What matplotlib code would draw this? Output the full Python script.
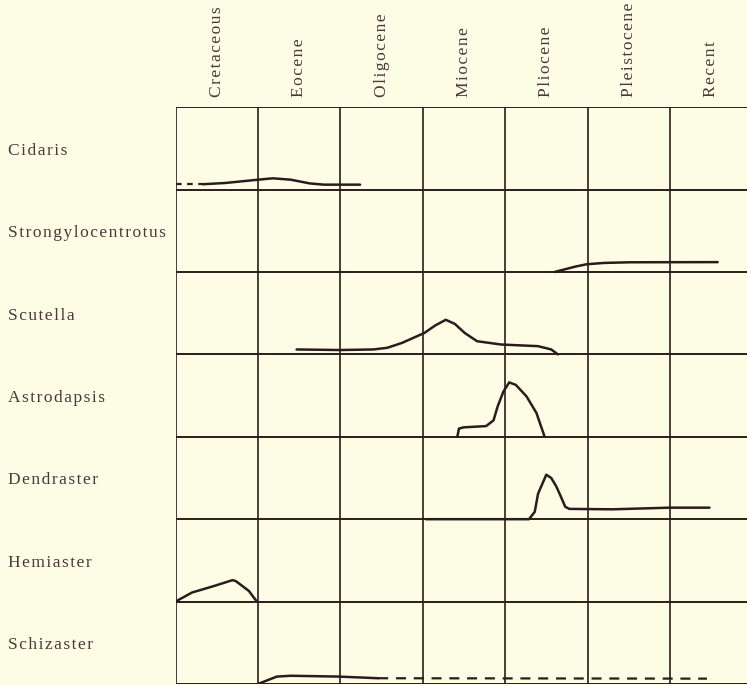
import matplotlib
matplotlib.use("Agg")
import matplotlib.pyplot as plt

# periods (columns) and genera (rows)
periods = ["Cretaceous", "Eocene", "Oligocene", "Miocene", "Pliocene", "Pleistocene", "Recent"]
genera = ["Cidaris", "Strongylocentrotus", "Scutella", "Astrodapsis",
          "Dendraster", "Hemiaster", "Schizaster"]

# abundance curves: x in period units, h = height above the row baseline
cidaris_x = [0.33, 0.6, 0.85, 1.0, 1.18, 1.4, 1.63, 1.8, 2.24]
cidaris_h = [0.065, 0.08, 0.105, 0.12, 0.137, 0.12, 0.075, 0.06, 0.06]
cidaris_dash_x = [0.0, 0.33]
cidaris_dash_h = [0.065, 0.065]

strongy_x = [4.6, 4.85, 4.99, 5.2, 5.52, 6.58]
strongy_h = [0.0, 0.065, 0.094, 0.11, 0.118, 0.12]

scutella_x = [1.47, 2.0, 2.4, 2.57, 2.75, 3.02, 3.15, 3.28, 3.39, 3.51, 3.66, 3.95, 4.4, 4.56, 4.64]
scutella_h = [0.06, 0.053, 0.06, 0.08, 0.14, 0.26, 0.35, 0.42, 0.37, 0.26, 0.16, 0.12, 0.1, 0.06, 0.0]

astro_x = [3.42, 3.44, 3.5, 3.77, 3.86, 3.91, 3.98, 4.05, 4.13, 4.26, 4.38, 4.48]
astro_h = [0.0, 0.1, 0.115, 0.13, 0.2, 0.37, 0.55, 0.66, 0.63, 0.49, 0.29, 0.0]

dendr_x = [3.04, 4.29, 4.36, 4.4, 4.5, 4.56, 4.62, 4.67, 4.73, 4.78, 5.3, 6.0, 6.48]
dendr_h = [0.0, 0.0, 0.09, 0.31, 0.54, 0.5, 0.4, 0.29, 0.15, 0.125, 0.12, 0.14, 0.14]

hemi_x = [0.0, 0.2, 0.47, 0.69, 0.73, 0.89, 0.98]
hemi_h = [0.0, 0.11, 0.19, 0.26, 0.25, 0.13, 0.01]

schiz_x = [1.0, 1.23, 1.4, 1.98, 2.46]
schiz_h = [0.0, 0.09, 0.1, 0.09, 0.07]
schiz_dash_x = [2.46, 6.45]
schiz_dash_h = [0.07, 0.065]

solid_curves = [(0, cidaris_x, cidaris_h), (1, strongy_x, strongy_h),
                (2, scutella_x, scutella_h), (3, astro_x, astro_h),
                (4, dendr_x, dendr_h), (5, hemi_x, hemi_h), (6, schiz_x, schiz_h)]
dashed_curves = [(0, cidaris_dash_x, cidaris_dash_h, (2.5, 2.5)),
                 (6, schiz_dash_x, schiz_dash_h, (4.5, 3.5))]

bg = "#fdfde6"
ink = "#2a1c1c"
text_col = "#4a3838"
serif = ["Liberation Serif", "DejaVu Serif"]


def spaced(s):
    # old book type is letter-spaced
    return "\u200a".join(s)


fig = plt.figure(figsize=(7.47, 6.85), dpi=100, facecolor=bg)
W, H = 747, 685
cell = 82.4
ax = fig.add_axes([175.5 / W, 1.0 / H, 7 * cell / W, 7 * cell / H])
ax.set_facecolor(bg)
n = len(genera)
ax.set_xlim(0, len(periods))
ax.set_ylim(0, n)

for k in range(len(periods) + 1):
    ax.axvline(k, color=ink, lw=1.2)
for k in range(n + 1):
    ax.axhline(k, color=ink, lw=1.4)
for s in ax.spines.values():
    s.set_visible(False)
ax.set_xticks([])
ax.set_yticks([])


def base(row):
    return n - 1 - row


for row, xs, hs in solid_curves:
    ax.plot(xs, [base(row) + h for h in hs], color=ink, lw=1.8,
            solid_joinstyle="round", solid_capstyle="round")
for row, xs, hs, dsh in dashed_curves:
    ax.plot(xs, [base(row) + h for h in hs], color=ink, lw=1.6, dashes=dsh)

for i, p in enumerate(periods):
    ax.text(i + 0.5, n + 0.12, spaced(p), rotation=90, ha="center", va="bottom",
            fontsize=12.5, family=serif, color=text_col, clip_on=False)

for i, g in enumerate(genera):
    ax.text(-2.03, base(i) + 0.47, spaced(g), ha="left", va="center",
            fontsize=12.5, family=serif, color=text_col, clip_on=False)

fig.savefig("out.png", dpi=100, facecolor=bg)
